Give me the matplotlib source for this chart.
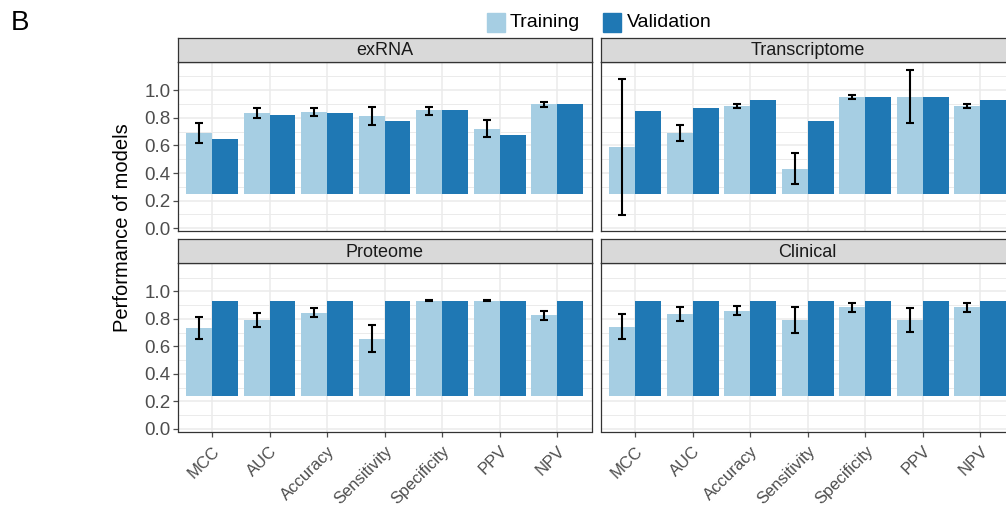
import matplotlib
matplotlib.use("Agg")
import matplotlib.pyplot as plt
import numpy as np
from matplotlib.patches import Rectangle

# ---------------- data ----------------
metrics = ["MCC", "AUC", "Accuracy", "Sensitivity", "Specificity", "PPV", "NPV"]
panels = ["exRNA", "Transcriptome", "Proteome", "Clinical"]

exrna_train = [0.69, 0.835, 0.84, 0.815, 0.854, 0.722, 0.897]
exrna_train_lo = [0.619, 0.80, 0.81, 0.75, 0.823, 0.662, 0.878]
exrna_train_hi = [0.763, 0.87, 0.87, 0.878, 0.882, 0.782, 0.918]
exrna_val = [0.65, 0.818, 0.837, 0.779, 0.854, 0.674, 0.897]

trans_train = [0.59, 0.69, 0.887, 0.432, 0.954, 0.954, 0.885]
trans_train_lo = [0.098, 0.635, 0.87, 0.324, 0.938, 0.763, 0.87]
trans_train_hi = [1.08, 0.75, 0.90, 0.544, 0.966, 1.146, 0.899]
trans_val = [0.849, 0.868, 0.933, 0.779, 0.954, 0.954, 0.928]

prot_train = [0.733, 0.793, 0.844, 0.654, 0.933, 0.933, 0.825]
prot_train_lo = [0.656, 0.74, 0.8125, 0.56, 0.928, 0.928, 0.793]
prot_train_hi = [0.8125, 0.844, 0.877, 0.752, 0.938, 0.938, 0.856]
prot_val = [0.933, 0.933, 0.933, 0.933, 0.933, 0.933, 0.933]

clin_train = [0.743, 0.837, 0.861, 0.793, 0.885, 0.793, 0.885]
clin_train_lo = [0.656, 0.788, 0.825, 0.70, 0.853, 0.708, 0.853]
clin_train_hi = [0.834, 0.889, 0.894, 0.889, 0.913, 0.88, 0.913]
clin_val = [0.933, 0.933, 0.933, 0.933, 0.933, 0.933, 0.933]

y_ticks = [0.0, 0.2, 0.4, 0.6, 0.8, 1.0]
y_ticklabels = ["0.0", "0.2", "0.4", "0.6", "0.8", "1.0"]

# ---------------- style ----------------
C_TRAIN = "#a6cee3"
C_VAL = "#1f78b4"
GRID = "#ebebeb"
BORDER = "#333333"
STRIP_FILL = "#d9d9d9"
TICK_COL = "#4d4d4d"
BAR_BASE = [0.25, 0.25, 0.24, 0.24]
BAR_W = 0.45

plt.rcParams["font.family"] = ["Liberation Sans", "DejaVu Sans"]

W, H = 1006, 518
fig = plt.figure(figsize=(W / 100, H / 100), dpi=100)

def px_axes(x0, y0, x1, y1):
    return fig.add_axes([x0 / W, 1 - y1 / H, (x1 - x0) / W, (y1 - y0) / H])

panel_boxes = [
    (177.5, 62.0, 591.7, 231.0),
    (600.7, 62.0, 1014.9, 231.0),
    (177.5, 263.3, 591.7, 431.5),
    (600.7, 263.3, 1014.9, 431.5),
]
strip_h = 24.0

data = [
    (exrna_train, exrna_train_lo, exrna_train_hi, exrna_val),
    (trans_train, trans_train_lo, trans_train_hi, trans_val),
    (prot_train, prot_train_lo, prot_train_hi, prot_val),
    (clin_train, clin_train_lo, clin_train_hi, clin_val),
]

x = np.arange(1, len(metrics) + 1)

for i, (box, name, (tr, lo, hi, va)) in enumerate(zip(panel_boxes, panels, data)):
    ax = px_axes(*box)
    base = BAR_BASE[i]
    tr = np.array(tr); lo = np.array(lo); hi = np.array(hi); va = np.array(va)
    ax.set_xlim(0.4, 7.6)
    ax.set_ylim(-0.02, 1.205)
    ax.set_axisbelow(True)
    ax.set_yticks(y_ticks)
    ax.set_yticks(np.arange(0.1, 1.25, 0.2), minor=True)
    ax.set_xticks(x)
    ax.grid(True, which="major", color=GRID, linewidth=1.1)
    ax.grid(True, which="minor", axis="y", color=GRID, linewidth=0.7)
    ax.bar(x - BAR_W / 2, tr - base, bottom=base, width=BAR_W, color=C_TRAIN,
           edgecolor="none", zorder=2)
    ax.bar(x + BAR_W / 2, va - base, bottom=base, width=BAR_W, color=C_VAL,
           edgecolor="none", zorder=2)
    ax.errorbar(x - BAR_W / 2, tr, yerr=[tr - lo, hi - tr], fmt="none",
                ecolor="black", elinewidth=1.5, capsize=2.7, capthick=1.5, zorder=3)
    for s in ax.spines.values():
        s.set_color(BORDER)
        s.set_linewidth(0.9)
    ax.tick_params(axis="both", which="major", color=TICK_COL, length=3.5,
                   width=0.9, labelcolor=TICK_COL)
    ax.tick_params(axis="both", which="minor", length=0)
    if i % 2 == 0:
        ax.set_yticklabels(y_ticklabels)
        ax.tick_params(axis="y", pad=1.5, labelsize=13.5)
    else:
        ax.tick_params(axis="y", labelleft=False, length=0)
    if i >= 2:
        ax.set_xticklabels(metrics, rotation=45, ha="right", rotation_mode="anchor")
        ax.tick_params(axis="x", pad=5, labelsize=12)
    else:
        ax.tick_params(axis="x", labelbottom=False, length=0)
    x0, y0, x1, y1 = box
    sax = px_axes(x0, y0 - strip_h, x1, y0)
    sax.set_xticks([]); sax.set_yticks([])
    sax.set_facecolor(STRIP_FILL)
    for s in sax.spines.values():
        s.set_color(BORDER)
        s.set_linewidth(0.9)
    sax.text(0.5, 0.47, name, ha="center", va="center", fontsize=13,
             color="#1a1a1a", transform=sax.transAxes)

# y label
fig.text(122 / W, 1 - 228 / H, "Performance of models", rotation=90,
         ha="center", va="center", fontsize=14.5, color="black")

# legend
def legend_item(x0, tx, label, color):
    fig.patches.append(Rectangle((x0 / W, 1 - 31.5 / H), 18 / W, 18 / H,
                                 transform=fig.transFigure, color=color))
    fig.text(tx / W, 1 - 22.5 / H, label, ha="left", va="center",
             fontsize=14, color="black")

legend_item(487, 510, "Training", C_TRAIN)
legend_item(603, 627, "Validation", C_VAL)

# panel tag
fig.text(11 / W, 1 - 22.5 / H, "B", ha="left", va="center", fontsize=20, color="black")

fig.savefig("out.png", dpi=100)
